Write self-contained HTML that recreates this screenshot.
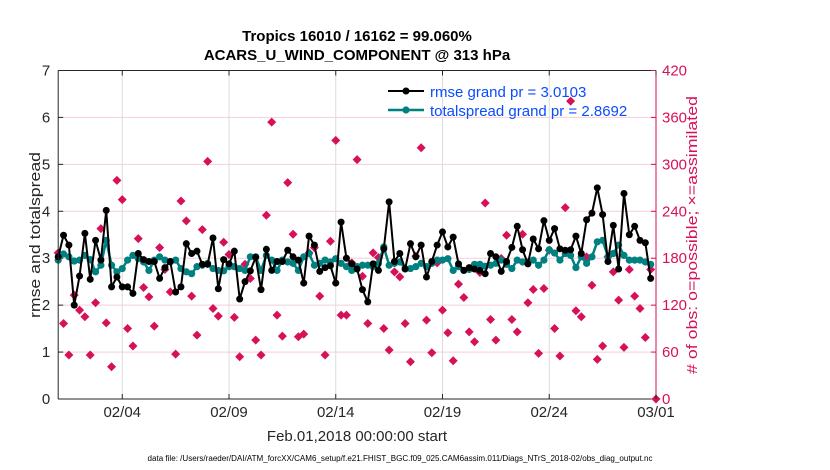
<!DOCTYPE html>
<html><head><meta charset="utf-8"><style>
body{margin:0;background:#fff;}
svg{display:block;font-family:"Liberation Sans",Arial,sans-serif;}
</style></head><body>
<svg id="chart" width="830" height="470" viewBox="0 0 830 470"></svg>
<script>
const rmse=[3.03,3.49,3.28,2.0,2.62,3.53,2.55,3.38,2.96,4.02,2.39,2.6,2.39,2.39,2.25,3.1,2.97,2.93,2.93,2.57,2.8,2.93,2.28,2.39,3.31,3.1,3.15,2.87,2.87,3.43,2.35,2.97,2.88,3.15,2.13,2.5,2.73,3.02,2.33,
3.19,2.74,2.93,2.93,3.17,3.03,2.96,2.47,3.47,3.28,2.72,2.8,2.84,2.47,3.77,3.0,2.88,2.77,2.33,2.07,2.88,2.74,3.2,4.2,2.93,3.1,2.77,3.31,3.03,3.28,2.6,2.93,3.28,3.56,3.24,3.45,2.88,
2.74,2.8,2.77,2.74,2.67,3.1,3.03,2.72,2.93,3.23,3.68,3.18,2.88,3.41,3.2,3.8,3.38,3.63,3.2,3.17,3.18,3.47,3.1,3.82,3.96,4.5,3.93,2.93,3.7,2.77,4.38,3.5,3.68,3.38,3.33,2.57];
const spreadPx=[600,582,590,603,600,585,598,635,615,540,615,635,625,600,585,595,605,630,600,590,600,605,600,625,635,640,620,615,610,625,630,632,620,620,625,630,590,590,630,
585,600,630,600,605,610,630,590,580,615,610,600,605,595,610,620,630,620,615,615,620,610,560,615,610,605,625,625,620,610,620,610,600,600,595,630,620,
630,628,612,612,618,615,610,600,612,625,600,605,605,600,615,600,568,578,600,580,585,622,590,610,590,545,540,590,580,555,585,600,600,600,605,612];
const spread=spreadPx.map(z=>+((339-z/3)/47).toFixed(2));
const obs=[186.8,96.6,56.2,132.8,113.6,105.1,56.2,123,217.9,97.4,41.3,279.6,254.9,90.2,67.7,205.1,142.6,130.6,93.2,193.6,165.5,137,57.4,253.2,227.7,131.5,81.7,216.6,303.8,115.7,106,200.4,184.7,104.3,54,172.3,154.1,75.3,56.2,234.9,
354,107.2,80.4,276.6,210.6,79.6,83,186.8,193.6,131.5,56.2,201.7,330.6,107.2,107.2,174,306,157,96.6,186.8,180.9,90.2,62.6,162.6,156.2,96.6,47.7,182.6,321.3,100.9,59.1,174,113.6,84.7,48.9,146.8,
129.8,85.9,73.2,161.7,250.6,101.7,75.3,179.6,209.4,101.7,85.9,210.6,123,140,58.3,141.3,190.2,90.2,54.9,244.7,380.9,112.8,105.1,181.7,145.5,50.7,67.7,181.7,162.6,126.4,66,165.5,131.5,115.7,78.7,165.5,0];
const xTicks=["02/04","02/09","02/14","02/19","02/24","03/01"];
const xTickDays=[3,8,13,18,23,28];
const yTicks=[0,1,2,3,4,5,6,7];
const y2Ticks=[0,60,120,180,240,300,360,420];

const L=58.2,R=656,T=70.5,B=399;
const xs=d=>L+(R-L)*d/28;
const ys=v=>B-(B-T)*v/7;
const y2s=v=>B-(B-T)*v/420;
const NS="http://www.w3.org/2000/svg";
const svg=document.getElementById('chart');
function mk(tag,attrs,parent){const e=document.createElementNS(NS,tag);for(const k in attrs)e.setAttribute(k,attrs[k]);(parent||svg).appendChild(e);return e;}
const PINK="#d6115a",TEAL="#008080";

const grid=mk('g',{});


y2Ticks.forEach((t,i)=>{if(i>0&&i<y2Ticks.length-1){mk('line',{x1:L,x2:R,y1:y2s(t),y2:y2s(t),stroke:"#f3cfdc","stroke-width":1},grid);}});
xTickDays.forEach(d=>{if(d<28)mk('line',{x1:xs(d),x2:xs(d),y1:T,y2:B,stroke:"#dcdcdc","stroke-width":1},grid);});

const og=mk('g',{});


obs.forEach((v,i)=>{const x=xs(i*0.25),y=y2s(v);
 const p=mk('path',{d:`M${x} ${y-4.5}L${x+4.5} ${y}L${x} ${y+4.5}L${x-4.5} ${y}Z`,fill:PINK},og);
 
 });

const sg=mk('g',{});


mk('polyline',{points:spread.map((v,i)=>xs(i*0.25)+","+ys(v)).join(" "),fill:"none",stroke:TEAL,"stroke-width":2.5},sg);
spread.forEach((v,i)=>{const c=mk('circle',{cx:xs(i*0.25),cy:ys(v),r:3.6,fill:TEAL},sg);
 
 });
const rg=mk('g',{});


mk('polyline',{points:rmse.map((v,i)=>xs(i*0.25)+","+ys(v)).join(" "),fill:"none",stroke:"#000","stroke-width":2},rg);
rmse.forEach((v,i)=>{const c=mk('circle',{cx:xs(i*0.25),cy:ys(v),r:3.5,fill:"#000"},rg);
 
 });

mk('line',{x1:L,x2:L,y1:T,y2:B,stroke:"#262626","stroke-width":1});
mk('line',{x1:L,x2:R,y1:B,y2:B,stroke:"#262626","stroke-width":1});
mk('line',{x1:L,x2:R,y1:T,y2:T,stroke:"#262626","stroke-width":1});
mk('line',{x1:R,x2:R,y1:T,y2:B,stroke:PINK,"stroke-width":1});

yTicks.forEach(t=>{mk('line',{x1:L,x2:L+5,y1:ys(t),y2:ys(t),stroke:"#262626"});
 const tx=mk('text',{x:L-8,y:ys(t)+5,"text-anchor":"end","font-size":15,fill:"#262626"});tx.textContent=t;
 
 });
y2Ticks.forEach(t=>{mk('line',{x1:R-5,x2:R,y1:y2s(t),y2:y2s(t),stroke:PINK});
 const tx=mk('text',{x:R+6,y:y2s(t)+5,"font-size":15,fill:PINK});tx.textContent=t;
 
 });
xTicks.forEach((t,i)=>{const x=xs(xTickDays[i]);mk('line',{x1:x,x2:x,y1:B,y2:B-5,stroke:"#262626"});mk('line',{x1:x,x2:x,y1:T,y2:T+5,stroke:"#262626"});
 const tx=mk('text',{x:x,y:417,"text-anchor":"middle","font-size":15,fill:"#262626"});tx.textContent=t;
 
 });
</script>
<svg style="position:absolute;left:0;top:0" width="830" height="470">
<text x="357" y="41" text-anchor="middle" font-size="15" font-weight="bold" fill="#000" font-family="Liberation Sans, sans-serif">Tropics 16010 / 16162 = 99.060%</text>
<text x="357" y="60" text-anchor="middle" font-size="15" font-weight="bold" fill="#000" font-family="Liberation Sans, sans-serif">ACARS_U_WIND_COMPONENT @ 313 hPa</text>
<text transform="translate(40,235) rotate(-90)" text-anchor="middle" font-size="15" textLength="166" lengthAdjust="spacingAndGlyphs" fill="#262626" font-family="Liberation Sans, sans-serif">rmse and totalspread</text>
<text transform="translate(697,235) rotate(-90)" text-anchor="middle" font-size="15" textLength="278" lengthAdjust="spacingAndGlyphs" fill="#d6115a" font-family="Liberation Sans, sans-serif"># of obs: o=possible; ×=assimilated</text>
<text x="357" y="441" text-anchor="middle" font-size="15" fill="#262626" font-family="Liberation Sans, sans-serif">Feb.01,2018 00:00:00 start</text>
<text x="400" y="461" text-anchor="middle" font-size="8" textLength="505" lengthAdjust="spacingAndGlyphs" fill="#000" font-family="Liberation Sans, sans-serif">data file: /Users/raeder/DAI/ATM_forcXX/CAM6_setup/f.e21.FHIST_BGC.f09_025.CAM6assim.011/Diags_NTrS_2018-02/obs_diag_output.nc</text>
<g>
<line x1="388" x2="424" y1="91" y2="91" stroke="#000" stroke-width="2"/><circle cx="406" cy="91" r="3.5" fill="#000"/>
<text x="430" y="97" font-size="15" fill="#0a4cff" font-family="Liberation Sans, sans-serif">rmse grand pr = 3.0103</text>
<line x1="388" x2="424" y1="110" y2="110" stroke="#008080" stroke-width="2.5"/><circle cx="406" cy="110" r="3.6" fill="#008080"/>
<text x="430" y="116" font-size="15" fill="#0a4cff" font-family="Liberation Sans, sans-serif">totalspread grand pr = 2.8692</text>
</g>
</svg>
</body></html>
